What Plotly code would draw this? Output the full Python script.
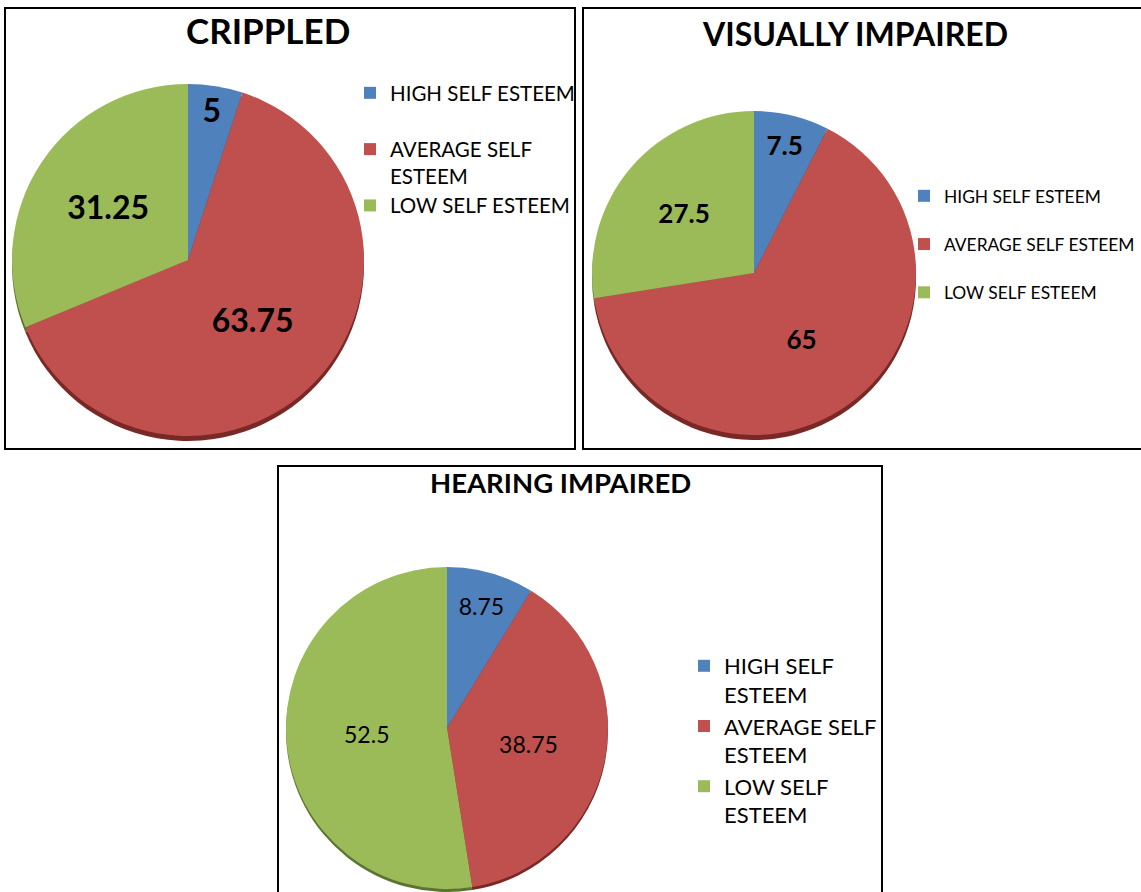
import plotly.graph_objects as go

W, H = 1141, 892

# ---- data ----
categories = ["HIGH SELF ESTEEM", "AVERAGE SELF ESTEEM", "LOW SELF ESTEEM"]
crippled_values = [5, 63.75, 31.25]
visual_values = [7.5, 65, 27.5]
hearing_values = [8.75, 38.75, 52.5]
titles = ["CRIPPLED", "VISUALLY IMPAIRED", "HEARING IMPAIRED"]
legend_labels_1 = ["HIGH SELF ESTEEM<br> ", "AVERAGE SELF<br>ESTEEM", "LOW SELF ESTEEM"]
legend_labels_2 = ["HIGH SELF ESTEEM<br>&nbsp;", "AVERAGE SELF ESTEEM<br>&nbsp;", "LOW SELF ESTEEM<br>&nbsp;"]
legend_labels_3 = ["HIGH SELF<br>ESTEEM", "AVERAGE SELF<br>ESTEEM ", "LOW SELF<br>ESTEEM"]

colors = ["#4F81BD", "#C0504D", "#9BBB59"]
shadow_colors = ["#2c4a70", "#7a2826", "#5c7431"]
FONT = "Lato"


def fx(x):
    return min(1.0, max(0.0, x / W))


def fy(y):
    return min(1.0, max(0.0, 1 - y / H))


def dom(cx, cy, r, dy=0):
    return dict(x=[fx(cx - r), fx(cx + r)], y=[fy(cy + r + dy), fy(cy - r + dy)])


fig = go.Figure()

panels = [
    dict(values=crippled_values, labels=legend_labels_1, cx=188, cy=260, r=176, sh=5,
         tsize=32, tbold=True, legend="legend", group="p1"),
    dict(values=visual_values, labels=legend_labels_2, cx=754, cy=273, r=162, sh=5,
         tsize=26, tbold=True, legend="legend2", group="p2"),
    dict(values=hearing_values, labels=legend_labels_3, cx=447, cy=728, r=161, sh=3,
         tsize=23, tbold=False, legend="legend3", group="p3"),
]

for p in panels:
    # 3D-like rim underneath
    fig.add_trace(go.Pie(
        labels=p["labels"], values=p["values"], sort=False, direction="clockwise",
        rotation=0, domain=dom(p["cx"], p["cy"], p["r"], dy=p["sh"]),
        marker=dict(colors=shadow_colors, line=dict(width=0)),
        textinfo="none", hoverinfo="skip", showlegend=False,
        legend=p["legend"], legendgroup=p["group"],
    ))
    fig.add_trace(go.Pie(
        labels=p["labels"], values=p["values"], sort=False, direction="clockwise",
        rotation=0, domain=dom(p["cx"], p["cy"], p["r"]),
        marker=dict(colors=colors, line=dict(width=0)),
        textinfo="value", textposition="inside", insidetextorientation="horizontal",
        textfont=dict(family=FONT, size=p["tsize"], color="#000000",
                      weight="bold" if p["tbold"] else "normal"),
        legend=p["legend"], legendgroup=p["group"],
    ))

# panel boxes
boxes = [(5, 8, 575, 449), (583, 8, 1150, 449), (278, 466, 882, 900)]
shapes = [dict(type="rect", xref="paper", yref="paper", x0=a / W, x1=c / W,
               y0=1 - d / H, y1=1 - b / H,
               line=dict(color="#000000", width=2), fillcolor="rgba(0,0,0,0)", layer="below")
          for a, b, c, d in boxes]

title_pos = [(268, 30, 35), (855, 33, 32), (560, 483, 27.5)]
annotations = [dict(text="<b>%s</b>" % t, x=fx(x), y=fy(y), xref="paper", yref="paper",
                    xanchor="center", yanchor="middle", showarrow=False,
                    font=dict(family=FONT, size=s, color="#000000"))
               for t, (x, y, s) in zip(titles, title_pos)]


def leg(x_text, y_top, size):
    return dict(x=fx(x_text - 40), y=fy(y_top), xanchor="left", yanchor="top",
                bgcolor="rgba(0,0,0,0)", borderwidth=0, valign="top",
                font=dict(family=FONT, size=size, color="#000000"),
                traceorder="normal")


fig.update_layout(
    width=W, height=H, margin=dict(l=0, r=0, t=0, b=0, autoexpand=False),
    paper_bgcolor="#ffffff", plot_bgcolor="#ffffff",
    shapes=shapes, annotations=annotations,
    legend=leg(390, 73, 20.5),
    legend2=leg(944, 178, 17.4),
    legend3=leg(724, 645, 22),
)

fig.write_html("out.html")
